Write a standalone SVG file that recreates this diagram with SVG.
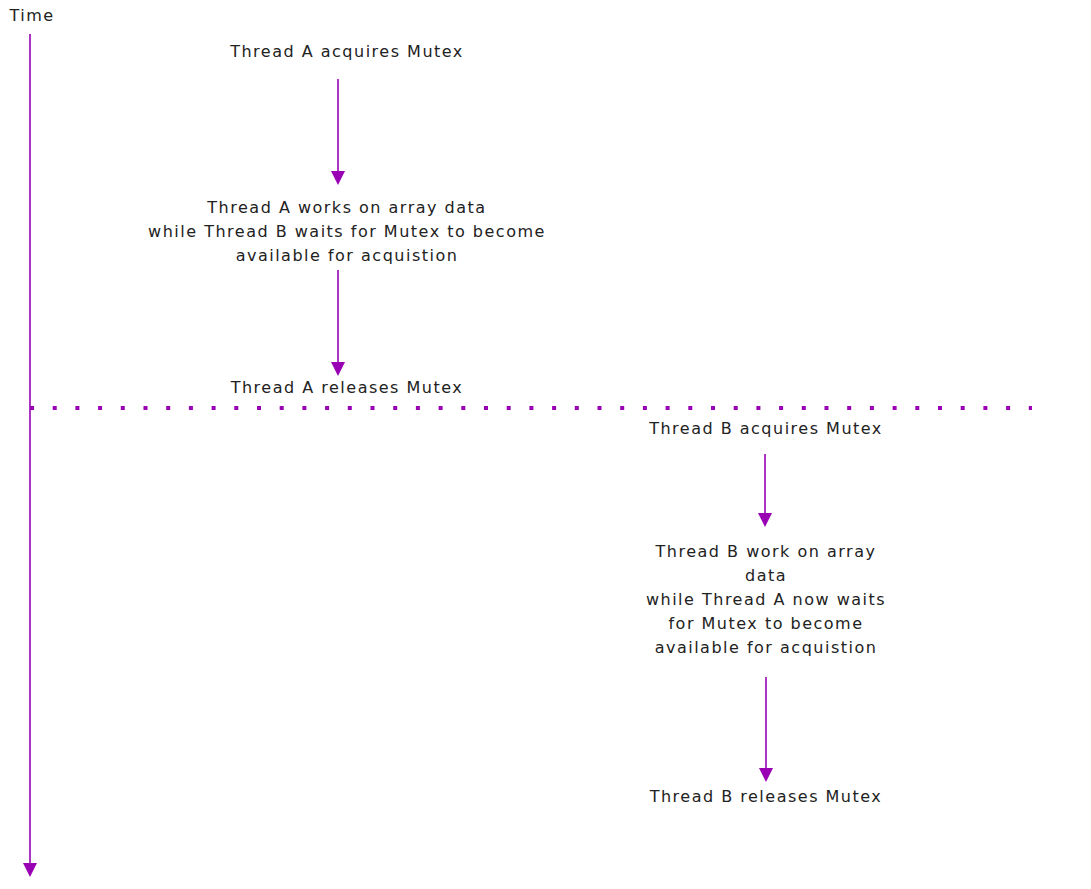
<svg xmlns="http://www.w3.org/2000/svg" width="1091" height="889" viewBox="0 0 1091 889">
<style>
.t{font-family:"DejaVu Sans","Liberation Sans",sans-serif;font-size:16px;letter-spacing:1.5px;fill:#222;text-anchor:middle}
.c{stroke:#9900b3;stroke-width:1.6;fill:none}
</style>
<defs>
<marker id="ah" markerWidth="14" markerHeight="14" refX="12" refY="7" orient="auto" markerUnits="userSpaceOnUse">
<path d="M0,0 L14,7 L0,14 z" fill="#9900b3"/>
</marker>
</defs>
<rect width="1091" height="889" fill="#fff"/>
<g id="connectors">
<line class="c" x1="30" y1="34" x2="30" y2="875" marker-end="url(#ah)"/>
<line x1="30" y1="408" x2="1032" y2="408" stroke="#9900b3" stroke-width="4" stroke-dasharray="4 18.7"/>
<line class="c" x1="338" y1="79" x2="338" y2="183" marker-end="url(#ah)"/>
<line class="c" x1="338" y1="270" x2="338" y2="374" marker-end="url(#ah)"/>
<line class="c" x1="765" y1="454" x2="765" y2="525" marker-end="url(#ah)"/>
<line class="c" x1="766" y1="677" x2="766" y2="780" marker-end="url(#ah)"/>
</g>
<g id="time"><text class="t" x="32" y="21">Time</text></g>
<g id="a-acq"><text class="t" x="347" y="57">Thread A acquires Mutex</text></g>
<g id="a-work"><text class="t" x="347" y="213">Thread A works on array data</text><text class="t" x="347" y="237">while Thread B waits for Mutex to become</text><text class="t" x="347" y="261">available for acquistion</text></g>
<g id="a-rel"><text class="t" x="347" y="393">Thread A releases Mutex</text></g>
<g id="b-acq"><text class="t" x="766" y="434">Thread B acquires Mutex</text></g>
<g id="b-work"><text class="t" x="766" y="557">Thread B work on array</text><text class="t" x="766" y="581">data</text><text class="t" x="766" y="605">while Thread A now waits</text><text class="t" x="766" y="629">for Mutex to become</text><text class="t" x="766" y="653">available for acquistion</text></g>
<g id="b-rel"><text class="t" x="766" y="802">Thread B releases Mutex</text></g>
</svg>
